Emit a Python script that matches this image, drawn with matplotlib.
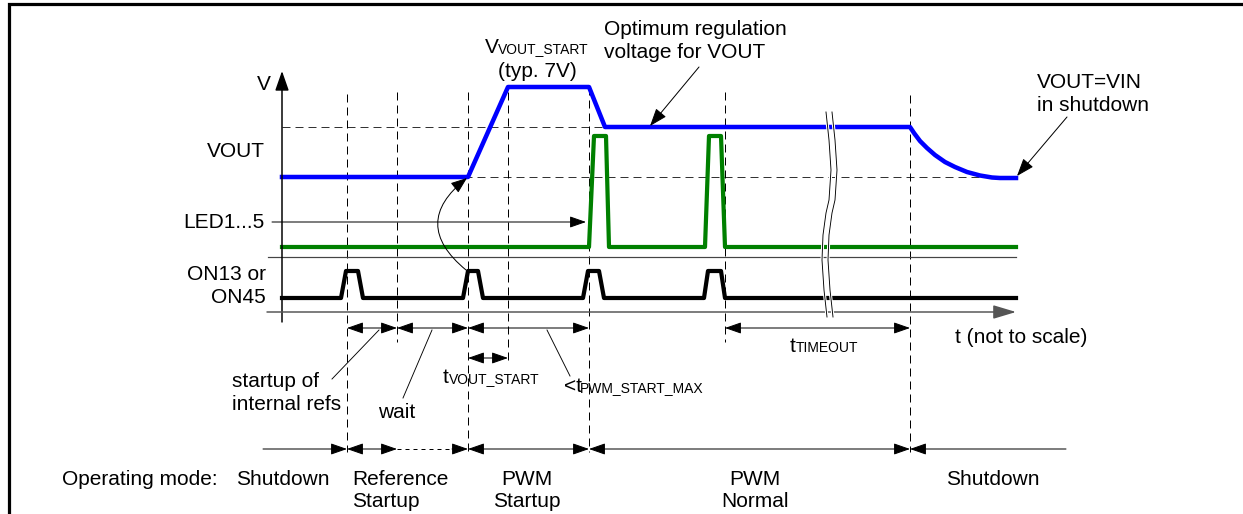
import matplotlib.pyplot as plt
from matplotlib.patches import FancyArrowPatch

plt.rcParams['font.family'] = ['Liberation Sans', 'DejaVu Sans']

# the sheet is laid out in pixel units (x right, y down)
W, H = 1243, 514

# event instants on the time axis (not to scale)
t_events = [347, 397, 468, 508, 589, 725, 910]
marker_top = [94, 92, 92, 92, 87, 92, 95]
marker_bot = [452, 342, 452, 362, 452, 342, 452]

# VOUT trace (blue)
vout_x = [282, 468, 508, 589, 605, 910, 914, 920, 927, 935, 945, 955, 967, 980, 992, 1000, 1016]
vout_y = [177, 177, 87, 87, 127, 127, 133, 141, 148, 155, 162, 167, 172, 175.5, 177.5, 178, 178]

# LED1...5 trace (green)
led_x = [282, 589, 594, 606, 609, 705, 709, 721, 725, 1016]
led_y = [247, 247, 136, 136, 247, 247, 136, 136, 247, 247]

# ON13 / ON45 trace (black)
on_x = [282, 341, 346, 358, 363, 463, 468, 478, 483,
        583, 588, 599, 604, 704, 708, 721, 725, 1016]
on_y = [298, 298, 271, 271, 298, 298, 271, 271, 298,
        298, 271, 271, 298, 298, 271, 271, 298, 298]

# reference levels
v_reg = 127
v_in = 177

# break marks on the time axis
brk_x = [826, 829, 831, 829, 826, 823, 822, 824, 827]
brk_y = [112, 140, 170, 200, 213, 235, 260, 290, 317]

# operating mode row
modes = [['Shutdown'], ['Reference', 'Startup'], ['PWM', 'Startup'],
         ['PWM', 'Normal'], ['Shutdown']]
mode_x = [283, 352, 527, 755, 993]
mode_ha = ['center', 'left', 'center', 'center', 'center']

FS = 15
FS_SUB = 10
PX = 0.72  # points per pixel at 100 dpi

fig = plt.figure(figsize=(W / 100, H / 100), dpi=100)
ax = fig.add_axes([0, 0, 1, 1])
ax.set_xlim(0, W)
ax.set_ylim(H, 0)
ax.axis('off')


def arrow(p0, p1, style='-|>', hl=1.0, hw=0.35, lw=1.0, color='k', ms=10, cs='arc3'):
    a = FancyArrowPatch(p0, p1, arrowstyle=f'{style},head_length={hl},head_width={hw}',
                        mutation_scale=ms, lw=lw * PX, color=color,
                        shrinkA=0, shrinkB=0, connectionstyle=cs, zorder=5)
    ax.add_patch(a)


def lines(x, y, rows, step=23, **kw):
    for i, s in enumerate(rows):
        ax.text(x, y + i * step, s, fontsize=FS, va='baseline', **kw)


# frame
ax.plot([9, 9, W], [H, 4, 4], color='k', lw=3.2 * PX, solid_joinstyle='miter')

# dashed reference levels
dash = dict(color='#333333', lw=1.0 * PX, linestyle=(0, (8, 5)))
ax.plot([282, 910], [v_reg, v_reg], **dash)
ax.plot([282, 1000], [v_in, v_in], **dash)

# dashed event markers
for x, t0, t1 in zip(t_events, marker_top, marker_bot):
    ax.plot([x, x], [t0, t1], color='k', lw=1.0 * PX, linestyle=(0, (8, 5)))

# axes
arrow((282, 322), (282, 71), hl=1.2, hw=0.42, lw=1.5)
ax.plot([268, 1016], [257, 257], color='#444444', lw=1.2 * PX)
arrow((267, 312), (1016, 312), hl=1.4, hw=0.42, lw=1.5, color='#555555')

# break marks
for dx in (0, 6):
    ax.plot([x + dx for x in brk_x], brk_y, color='white', lw=3 * PX, zorder=6)
    ax.plot([x + dx for x in brk_x], brk_y, color='k', lw=0.9 * PX, zorder=7)

# signals
ax.plot(vout_x, vout_y, color='#0000ff', lw=4.5 * PX, solid_joinstyle='round', zorder=4)
ax.plot(led_x, led_y, color='#008000', lw=4.2 * PX, solid_joinstyle='round', zorder=4)
ax.plot(on_x, on_y, color='k', lw=4.2 * PX, solid_joinstyle='round', zorder=4)

# left labels
ax.text(271, 90, 'V', fontsize=FS, ha='right', va='baseline')
ax.text(265, 157, 'VOUT', fontsize=FS, ha='right', va='baseline')
ax.text(265, 228, 'LED1...5', fontsize=FS, ha='right', va='baseline')
lines(266, 280, ['ON13 or', 'ON45'], ha='right')
arrow((272, 222), (586, 222))

# top annotations
ax.text(485, 53, 'V', fontsize=FS, ha='left', va='baseline')
ax.text(498, 53, 'VOUT_START', fontsize=FS_SUB, ha='left', va='baseline')
ax.text(537, 77, '(typ. 7V)', fontsize=FS, ha='center', va='baseline')
lines(604, 35, ['Optimum regulation', 'voltage for VOUT'], ha='left')
arrow((699, 67), (650, 126), hl=1.1, hw=0.4)
lines(1037, 88, ['VOUT=VIN', 'in shutdown'], ha='left')
arrow((1067, 117), (1017, 176), hl=1.1, hw=0.4)
arrow((466, 270), (467, 178), cs='arc3,rad=-0.62', hl=1.0, hw=0.38)

# timing dimensions
row1, row2, row3 = 328, 358, 449
arrow((347, row1), (397, row1), style='<|-|>')
arrow((397, row1), (468, row1), style='<|-|>')
arrow((468, row1), (589, row1), style='<|-|>')
arrow((725, row1), (910, row1), style='<|-|>')
arrow((468, row2), (508, row2), style='<|-|>')

arrow((263, row3), (347, row3))
arrow((347, row3), (397, row3), style='<|-|>')
ax.plot([397, 456], [row3, row3], color='k', lw=1.0 * PX, linestyle=(0, (4, 4)))
arrow((452, row3), (468, row3))
arrow((468, row3), (589, row3), style='<|-|>')
arrow((589, row3), (910, row3), style='<|-|>')
arrow((1066, row3), (910, row3))

# leaders
ax.plot([332, 379], [379, 330], color='k', lw=0.9 * PX)
ax.plot([403, 432], [398, 330], color='k', lw=0.9 * PX)
ax.plot([547, 570], [330, 376], color='k', lw=0.9 * PX)

lines(232, 387, ['startup of', 'internal refs'], ha='left')
ax.text(378, 418, 'wait', fontsize=FS, ha='left', va='baseline')
ax.text(443, 383, 't', fontsize=FS, ha='left', va='baseline')
ax.text(449, 383, 'VOUT_START', fontsize=FS_SUB, ha='left', va='baseline')
ax.text(564, 392, '<t', fontsize=FS, ha='left', va='baseline')
ax.text(580, 392, 'PWM_START_MAX', fontsize=FS_SUB, ha='left', va='baseline')
ax.text(790, 352, 't', fontsize=FS, ha='left', va='baseline')
ax.text(796, 352, 'TIMEOUT', fontsize=FS_SUB, ha='left', va='baseline')
ax.text(955, 343, 't (not to scale)', fontsize=FS, ha='left', va='baseline')

# operating modes
ax.text(62, 485, 'Operating mode:', fontsize=FS, ha='left', va='baseline')
for rows, x, ha in zip(modes, mode_x, mode_ha):
    lines(x, 485, rows, step=22, ha=ha)

fig.savefig('out.png', dpi=100)
